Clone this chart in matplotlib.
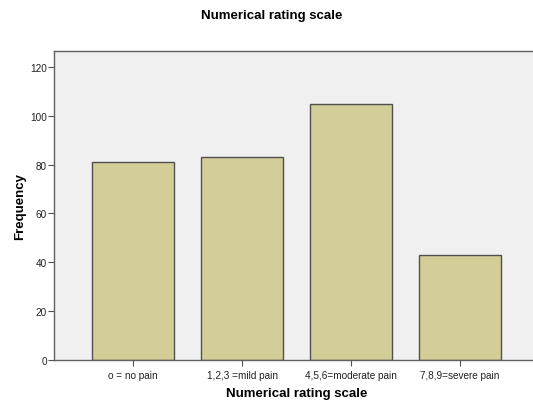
import matplotlib

matplotlib.use('Agg')
import matplotlib.pyplot as plt

categories = ['o = no pain', '1,2,3 =mild pain', '4,5,6=moderate pain', '7,8,9=severe pain']
frequency = [81, 83, 105, 43]
yticks = [0, 20, 40, 60, 80, 100, 120]

plt.rcParams['font.family'] = ['Liberation Sans', 'DejaVu Sans']

fig = plt.figure(figsize=(5.33, 4.02), dpi=100)
# axes runs past the right edge, as in the reference
ax = fig.add_axes([54 / 533, 41 / 402, 485 / 533, 309 / 402])
ax.set_facecolor('#F0F0F0')

x = list(range(len(categories)))
ax.bar(x, frequency, width=0.75, color='#D3CE97', edgecolor='#505050', linewidth=1.0, zorder=2)

ax.set_xlim(-0.725, 3.725)
ax.set_ylim(0, 126.5)
ax.set_yticks(yticks)
ax.set_xticks(x)
ax.set_xticklabels(categories, fontsize=7.2, color='#222222')
ax.tick_params(axis='y', labelsize=7.2, labelcolor='#222222', length=4, color='#505050', pad=1)
ax.tick_params(axis='x', length=4, color='#505050', pad=3)

for s in ['top', 'left', 'bottom']:
    ax.spines[s].set_color('#606060')
    ax.spines[s].set_linewidth(1.0)
ax.spines['right'].set_visible(False)

ax.set_xlabel('Numerical rating scale', fontsize=9.5, fontweight='bold', labelpad=5)
ax.set_ylabel('Frequency', fontsize=9.5, fontweight='bold', labelpad=3)
fig.text(272 / 533, 1 - 16 / 402, 'Numerical rating scale', ha='center', va='center',
         fontsize=9.5, fontweight='bold')

plt.savefig('out.png', dpi=100)
plt.close()
